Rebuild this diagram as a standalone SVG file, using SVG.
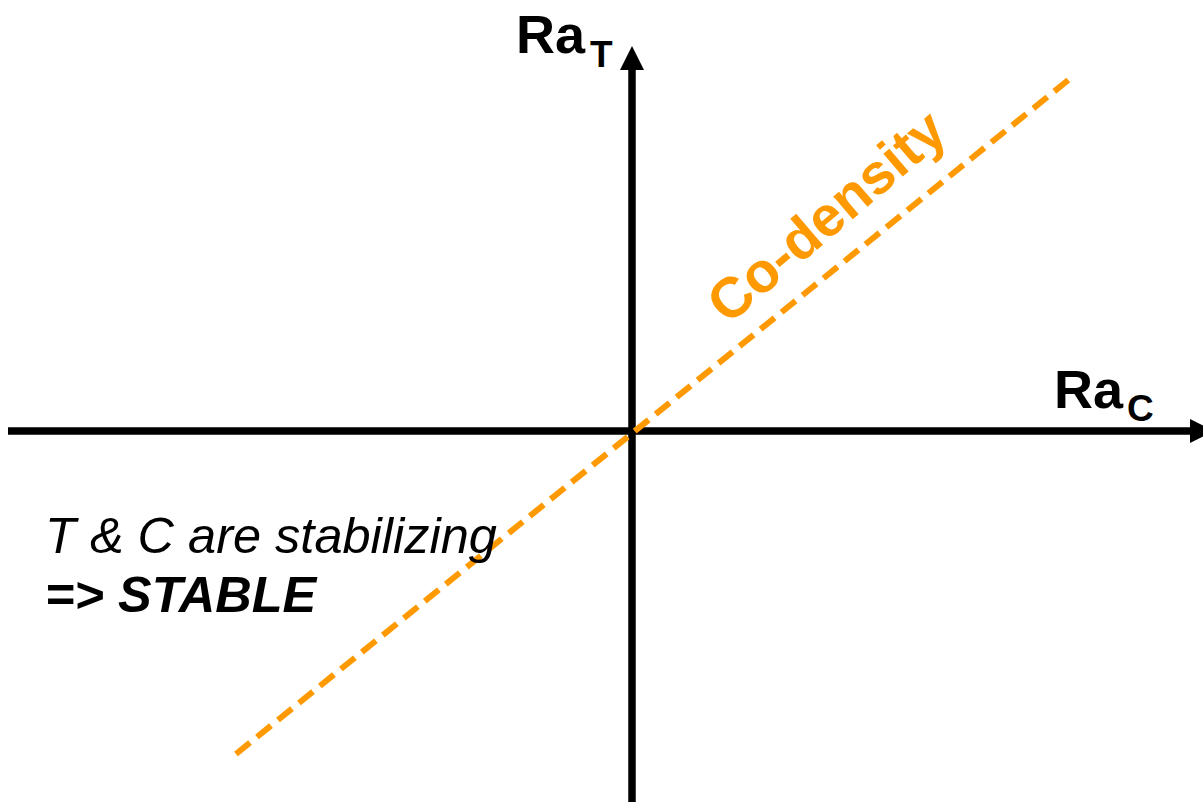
<svg xmlns="http://www.w3.org/2000/svg" width="1203" height="802" viewBox="0 0 1203 802">
<style>
.axis{stroke:#000;stroke-width:7.5;fill:none}
.head{fill:#000}
.dash{stroke:#FF9900;stroke-width:6;stroke-dasharray:18 9;fill:none}
.lbl{font-family:"Liberation Sans",Arial,sans-serif;font-weight:bold;fill:#000}
.note{font-family:"Liberation Sans",Arial,sans-serif;font-style:italic;font-size:50.5px;fill:#000}
</style>
<rect width="1203" height="802" fill="#fff"/>
<g id="connectors">
<line class="axis" x1="8" y1="431" x2="1192" y2="431"/>
<polygon class="head" points="1190,419 1214,431 1190,443"/>
<line class="axis" x1="632" y1="802" x2="632" y2="68"/>
<polygon class="head" points="620,70 632,46 644,70"/>
<line class="dash" x1="236" y1="754" x2="1072" y2="77"/>
</g>
<g id="label-RaT">
<text class="lbl" x="516" y="53" font-size="54">Ra<tspan font-size="37" dx="5" dy="14">T</tspan></text>
</g>
<g id="label-RaC">
<text class="lbl" x="1054" y="408" font-size="54">Ra<tspan font-size="37" dx="4" dy="13">C</tspan></text>
</g>
<g id="label-codensity">
<text x="839" y="231" transform="rotate(-40.5 839 231)" text-anchor="middle" font-family="Liberation Sans,Arial,sans-serif" font-weight="bold" font-size="56.5" fill="#FF9900">Co-density</text>
</g>
<g id="note">
<text class="note" x="45" y="553">T &amp; C are stabilizing</text>
<text class="note" x="45" y="612" font-weight="bold">=&gt; STABLE</text>
</g>
</svg>
